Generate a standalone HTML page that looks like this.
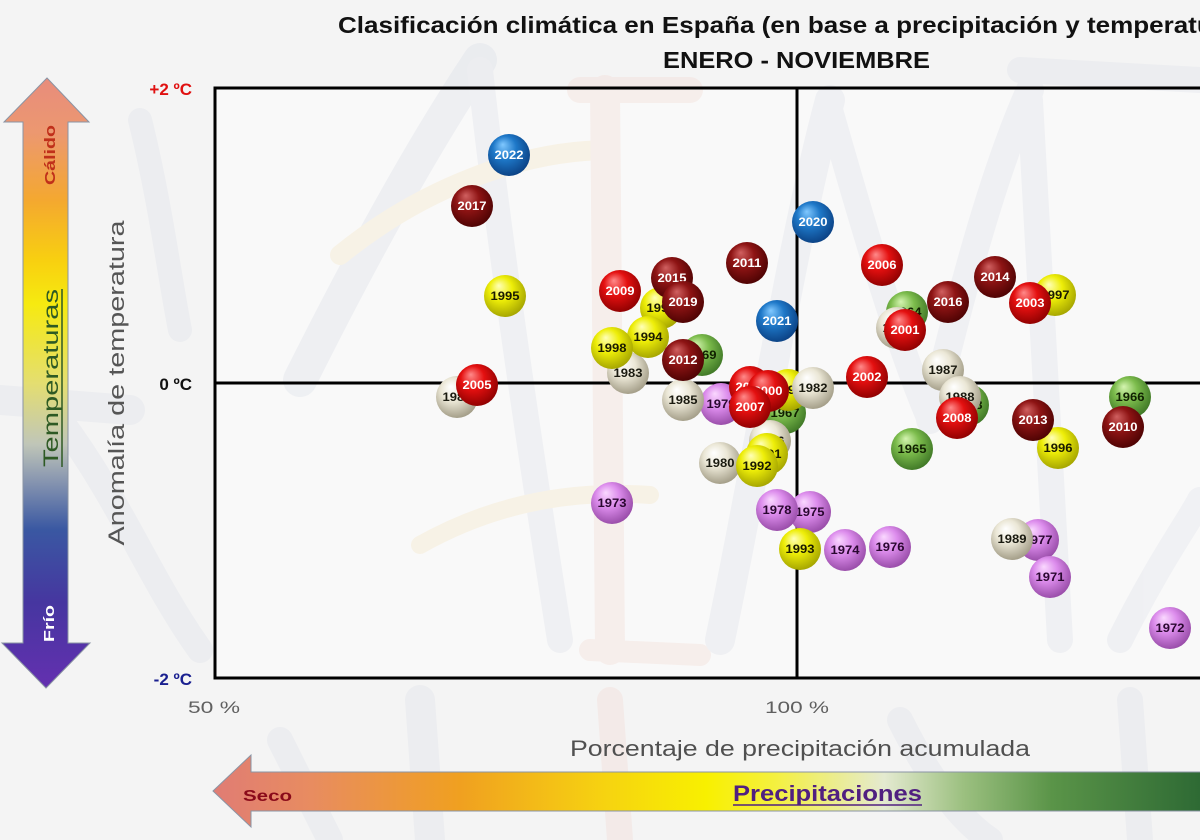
<!DOCTYPE html>
<html><head><meta charset="utf-8"><style>
html,body{margin:0;padding:0;background:#f4f4f4;}
svg{display:block;}
text{font-family:"Liberation Sans",sans-serif;}
</style></head><body>
<svg width="1200" height="840" viewBox="0 0 1200 840" xmlns="http://www.w3.org/2000/svg">
<defs>
<linearGradient id="tempG" x1="0" y1="78" x2="0" y2="688" gradientUnits="userSpaceOnUse">
<stop offset="0" stop-color="#e88c7c"/>
<stop offset="0.09" stop-color="#ec9870"/>
<stop offset="0.2" stop-color="#f4a830"/>
<stop offset="0.3" stop-color="#f8d010"/>
<stop offset="0.37" stop-color="#f6ea10"/>
<stop offset="0.5" stop-color="#e4de70"/>
<stop offset="0.6" stop-color="#c0c6b8"/>
<stop offset="0.66" stop-color="#8896b0"/>
<stop offset="0.74" stop-color="#3a58a2"/>
<stop offset="0.86" stop-color="#4636a0"/>
<stop offset="1" stop-color="#6430b0"/>
</linearGradient>
<linearGradient id="precG" x1="213" y1="0" x2="1200" y2="0" gradientUnits="userSpaceOnUse">
<stop offset="0" stop-color="#e07c74"/>
<stop offset="0.1" stop-color="#e88c60"/>
<stop offset="0.25" stop-color="#f0a020"/>
<stop offset="0.4" stop-color="#f6d410"/>
<stop offset="0.5" stop-color="#f8f000"/>
<stop offset="0.57" stop-color="#f4f040"/>
<stop offset="0.68" stop-color="#e4ead0"/>
<stop offset="0.76" stop-color="#9cc080"/>
<stop offset="0.85" stop-color="#5a9448"/>
<stop offset="1" stop-color="#2e6a34"/>
</linearGradient>
<radialGradient id="bDR" cx="0.45" cy="0.42" r="0.62" fx="0.35" fy="0.25"><stop offset="0" stop-color="#d06060"/><stop offset="0.45" stop-color="#8e1414"/><stop offset="1" stop-color="#4a0202"/></radialGradient>
<radialGradient id="bR" cx="0.45" cy="0.42" r="0.62" fx="0.35" fy="0.25"><stop offset="0" stop-color="#ff8a8a"/><stop offset="0.45" stop-color="#e41010"/><stop offset="1" stop-color="#8a0000"/></radialGradient>
<radialGradient id="bB" cx="0.45" cy="0.42" r="0.62" fx="0.35" fy="0.25"><stop offset="0" stop-color="#80c8ff"/><stop offset="0.45" stop-color="#1e78c8"/><stop offset="1" stop-color="#0a3e80"/></radialGradient>
<radialGradient id="bY" cx="0.45" cy="0.42" r="0.62" fx="0.35" fy="0.25"><stop offset="0" stop-color="#ffffb8"/><stop offset="0.45" stop-color="#eeee08"/><stop offset="1" stop-color="#a0a000"/></radialGradient>
<radialGradient id="bC" cx="0.45" cy="0.42" r="0.62" fx="0.35" fy="0.25"><stop offset="0" stop-color="#ffffff"/><stop offset="0.45" stop-color="#ebe7d6"/><stop offset="1" stop-color="#9e9882"/></radialGradient>
<radialGradient id="bG" cx="0.45" cy="0.42" r="0.62" fx="0.35" fy="0.25"><stop offset="0" stop-color="#d4f4b0"/><stop offset="0.45" stop-color="#7cbc4c"/><stop offset="1" stop-color="#3c7424"/></radialGradient>
<radialGradient id="bP" cx="0.45" cy="0.42" r="0.62" fx="0.35" fy="0.25"><stop offset="0" stop-color="#fad8ff"/><stop offset="0.45" stop-color="#dc8cec"/><stop offset="1" stop-color="#9448a4"/></radialGradient>
</defs>

<rect x="0" y="0" width="1200" height="840" fill="#f4f4f4"/>
<rect x="215" y="88" width="985" height="590" fill="#f9f9f9"/>

<!-- watermark strokes -->
<g fill="none" stroke-linecap="round" opacity="0.32">
<path d="M300,380 C360,260 420,150 480,60" stroke="#d8dce6" stroke-width="34"/>
<path d="M480,70 C500,250 530,450 560,640" stroke="#dde0e8" stroke-width="26"/>
<path d="M340,255 C420,190 520,150 610,150" stroke="#f4e4c0" stroke-width="20"/>
<path d="M420,545 C500,500 580,490 650,495" stroke="#f4e4c0" stroke-width="18"/>
<path d="M605,90 L610,650" stroke="#f2d8d0" stroke-width="30"/>
<path d="M580,90 L690,90" stroke="#f2d8d0" stroke-width="26"/>
<path d="M590,650 L700,655" stroke="#f2d8d0" stroke-width="22"/>
<path d="M720,640 C760,450 790,250 830,100" stroke="#dde0e8" stroke-width="30"/>
<path d="M830,110 C870,250 900,350 930,420" stroke="#dde0e8" stroke-width="26"/>
<path d="M930,420 C960,300 990,180 1030,90" stroke="#dde0e8" stroke-width="28"/>
<path d="M1030,100 C1040,300 1050,480 1060,640" stroke="#dde0e8" stroke-width="26"/>
<path d="M1120,640 C1160,560 1190,520 1200,500" stroke="#dde0e8" stroke-width="26"/>
<path d="M1020,70 L1200,80" stroke="#dde0e8" stroke-width="26"/>
<path d="M0,400 L130,410" stroke="#dde0e8" stroke-width="30"/>
<path d="M60,420 C120,500 150,580 200,650" stroke="#dde0e8" stroke-width="26"/>
<path d="M140,120 C160,200 170,280 180,330" stroke="#dde0e8" stroke-width="24"/>
<path d="M420,700 L430,840" stroke="#dde0e8" stroke-width="30"/>
<path d="M610,700 L620,840" stroke="#f2d8d0" stroke-width="26"/>
<path d="M900,720 C930,780 960,820 990,840" stroke="#dde0e8" stroke-width="26"/>
<path d="M1130,700 L1140,840" stroke="#dde0e8" stroke-width="26"/>
<path d="M280,740 L330,840" stroke="#dde0e8" stroke-width="26"/>
</g>

<!-- title -->
<text x="338" y="33" font-size="23" font-weight="bold" fill="#111" textLength="908" lengthAdjust="spacingAndGlyphs">Clasificación climática en España (en base a precipitación y temperatura)</text>
<text x="663" y="68" font-size="23" font-weight="bold" fill="#111" textLength="267" lengthAdjust="spacingAndGlyphs">ENERO - NOVIEMBRE</text>

<!-- left arrow -->
<path d="M47,78 L89,122 L68,122 L68,643 L90,643 L46,688 L2,643 L23,643 L23,122 L4,122 Z" fill="url(#tempG)" stroke="#8a94a4" stroke-width="1"/>
<text transform="translate(55,185) rotate(-90)" font-size="15" font-weight="bold" fill="#c0301a" textLength="60" lengthAdjust="spacingAndGlyphs">Cálido</text>
<text transform="translate(58,467) rotate(-90)" font-size="21" fill="#2e5a24" textLength="178" lengthAdjust="spacingAndGlyphs">Temperaturas</text>
<line x1="62" y1="467" x2="62" y2="289" stroke="#2e5a24" stroke-width="1.5"/>
<text transform="translate(54,642) rotate(-90)" font-size="15" font-weight="bold" fill="#ffffff" textLength="37" lengthAdjust="spacingAndGlyphs">Frío</text>

<!-- y axis title -->
<text transform="translate(124,383) rotate(-90)" font-size="22" fill="#555" text-anchor="middle" textLength="325" lengthAdjust="spacingAndGlyphs">Anomalía de temperatura</text>

<!-- tick labels -->
<text x="192" y="95" font-size="17" font-weight="bold" fill="#e01010" text-anchor="end">+2 ºC</text>
<text x="192" y="390" font-size="17" font-weight="bold" fill="#111" text-anchor="end">0 ºC</text>
<text x="192" y="685" font-size="17" font-weight="bold" fill="#1a2090" text-anchor="end">-2 ºC</text>
<text x="188" y="713" font-size="17" fill="#606060" textLength="52" lengthAdjust="spacingAndGlyphs">50 %</text>
<text x="765" y="713" font-size="17" fill="#606060" textLength="64" lengthAdjust="spacingAndGlyphs">100 %</text>

<!-- frame and zero lines -->
<g stroke="#000" stroke-width="3" fill="none">
<path d="M1201,88 H215 V678 H1201"/>
<path d="M215,383 H1201"/>
<path d="M797,88 V678"/>
</g>

<!-- x axis title -->
<text x="570" y="756" font-size="22" fill="#505050" textLength="460" lengthAdjust="spacingAndGlyphs">Porcentaje de precipitación acumulada</text>

<!-- bottom arrow -->
<path d="M213,791 L251,755 L251,772 L1201,772 L1201,811 L251,811 L251,827 Z" fill="url(#precG)" stroke="#8a94a4" stroke-width="1"/>
<text x="243" y="801" font-size="16" font-weight="bold" fill="#8a0a1a" textLength="49" lengthAdjust="spacingAndGlyphs">Seco</text>
<text x="733" y="801" font-size="22" font-weight="bold" fill="#502080" textLength="189" lengthAdjust="spacingAndGlyphs">Precipitaciones</text>
<line x1="733" y1="805" x2="922" y2="805" stroke="#502080" stroke-width="1.5"/>

<!-- bubbles -->
<g font-size="12" font-weight="bold" text-anchor="middle">
<!-- green -->
<g fill="#102000">
<circle cx="907" cy="312" r="21" fill="url(#bG)"/><text x="907" y="316" textLength="29" lengthAdjust="spacingAndGlyphs">1964</text>
<circle cx="702" cy="355" r="21" fill="url(#bG)"/><text x="702" y="359" textLength="29" lengthAdjust="spacingAndGlyphs">1969</text>
<circle cx="785" cy="413" r="21" fill="url(#bG)"/><text x="785" y="417" textLength="29" lengthAdjust="spacingAndGlyphs">1967</text>
<circle cx="968" cy="405" r="21" fill="url(#bG)"/><text x="968" y="409" textLength="29" lengthAdjust="spacingAndGlyphs">1968</text>
<circle cx="1130" cy="397" r="21" fill="url(#bG)"/><text x="1130" y="401" textLength="29" lengthAdjust="spacingAndGlyphs">1966</text>
<circle cx="912" cy="449" r="21" fill="url(#bG)"/><text x="912" y="453" textLength="29" lengthAdjust="spacingAndGlyphs">1965</text>
</g>
<!-- pink -->
<g fill="#2a0830">
<circle cx="721" cy="404" r="21" fill="url(#bP)"/><text x="721" y="408" textLength="29" lengthAdjust="spacingAndGlyphs">1979</text>
<circle cx="612" cy="503" r="21" fill="url(#bP)"/><text x="612" y="507" textLength="29" lengthAdjust="spacingAndGlyphs">1973</text>
<circle cx="810" cy="512" r="21" fill="url(#bP)"/><text x="810" y="516" textLength="29" lengthAdjust="spacingAndGlyphs">1975</text>
<circle cx="777" cy="510" r="21" fill="url(#bP)"/><text x="777" y="514" textLength="29" lengthAdjust="spacingAndGlyphs">1978</text>
<circle cx="845" cy="550" r="21" fill="url(#bP)"/><text x="845" y="554" textLength="29" lengthAdjust="spacingAndGlyphs">1974</text>
<circle cx="890" cy="547" r="21" fill="url(#bP)"/><text x="890" y="551" textLength="29" lengthAdjust="spacingAndGlyphs">1976</text>
<circle cx="1038" cy="540" r="21" fill="url(#bP)"/><text x="1038" y="544" textLength="29" lengthAdjust="spacingAndGlyphs">1977</text>
<circle cx="1050" cy="577" r="21" fill="url(#bP)"/><text x="1050" y="581" textLength="29" lengthAdjust="spacingAndGlyphs">1971</text>
<circle cx="1170" cy="628" r="21" fill="url(#bP)"/><text x="1170" y="632" textLength="29" lengthAdjust="spacingAndGlyphs">1972</text>
</g>
<!-- cream -->
<g fill="#1a1a10">
<circle cx="897" cy="328" r="21" fill="url(#bC)"/><text x="897" y="332" textLength="29" lengthAdjust="spacingAndGlyphs">1984</text>
<circle cx="628" cy="373" r="21" fill="url(#bC)"/><text x="628" y="377" textLength="29" lengthAdjust="spacingAndGlyphs">1983</text>
<circle cx="457" cy="397" r="21" fill="url(#bC)"/><text x="457" y="401" textLength="29" lengthAdjust="spacingAndGlyphs">1981</text>
<circle cx="683" cy="400" r="21" fill="url(#bC)"/><text x="683" y="404" textLength="29" lengthAdjust="spacingAndGlyphs">1985</text>
<circle cx="943" cy="370" r="21" fill="url(#bC)"/><text x="943" y="374" textLength="29" lengthAdjust="spacingAndGlyphs">1987</text>
<circle cx="960" cy="397" r="21" fill="url(#bC)"/><text x="960" y="401" textLength="29" lengthAdjust="spacingAndGlyphs">1988</text>
<circle cx="770" cy="441" r="21" fill="url(#bC)"/><text x="770" y="445" textLength="29" lengthAdjust="spacingAndGlyphs">1986</text>
<circle cx="720" cy="463" r="21" fill="url(#bC)"/><text x="720" y="467" textLength="29" lengthAdjust="spacingAndGlyphs">1980</text>
<circle cx="1012" cy="539" r="21" fill="url(#bC)"/><text x="1012" y="543" textLength="29" lengthAdjust="spacingAndGlyphs">1989</text>
</g>
<!-- yellow -->
<g fill="#1a1a00">
<circle cx="505" cy="296" r="21" fill="url(#bY)"/><text x="505" y="300" textLength="29" lengthAdjust="spacingAndGlyphs">1995</text>
<circle cx="661" cy="308" r="21" fill="url(#bY)"/><text x="661" y="312" textLength="29" lengthAdjust="spacingAndGlyphs">1999</text>
<circle cx="648" cy="337" r="21" fill="url(#bY)"/><text x="648" y="341" textLength="29" lengthAdjust="spacingAndGlyphs">1994</text>
<circle cx="612" cy="348" r="21" fill="url(#bY)"/><text x="612" y="352" textLength="29" lengthAdjust="spacingAndGlyphs">1998</text>
<circle cx="788" cy="390" r="21" fill="url(#bY)"/><text x="788" y="394" textLength="29" lengthAdjust="spacingAndGlyphs">1990</text>
<circle cx="767" cy="454" r="21" fill="url(#bY)"/><text x="767" y="458" textLength="29" lengthAdjust="spacingAndGlyphs">1991</text>
<circle cx="757" cy="466" r="21" fill="url(#bY)"/><text x="757" y="470" textLength="29" lengthAdjust="spacingAndGlyphs">1992</text>
<circle cx="1055" cy="295" r="21" fill="url(#bY)"/><text x="1055" y="299" textLength="29" lengthAdjust="spacingAndGlyphs">1997</text>
<circle cx="1058" cy="448" r="21" fill="url(#bY)"/><text x="1058" y="452" textLength="29" lengthAdjust="spacingAndGlyphs">1996</text>
<circle cx="800" cy="549" r="21" fill="url(#bY)"/><text x="800" y="553" textLength="29" lengthAdjust="spacingAndGlyphs">1993</text>
</g>
<circle cx="813" cy="388" r="21" fill="url(#bC)"/><text x="813" y="392" fill="#1a1a10" textLength="29" lengthAdjust="spacingAndGlyphs">1982</text>
<!-- red -->
<g fill="#ffffff">
<circle cx="620" cy="291" r="21" fill="url(#bR)"/><text x="620" y="295" textLength="29" lengthAdjust="spacingAndGlyphs">2009</text>
<circle cx="882" cy="265" r="21" fill="url(#bR)"/><text x="882" y="269" textLength="29" lengthAdjust="spacingAndGlyphs">2006</text>
<circle cx="1030" cy="303" r="21" fill="url(#bR)"/><text x="1030" y="307" textLength="29" lengthAdjust="spacingAndGlyphs">2003</text>
<circle cx="905" cy="330" r="21" fill="url(#bR)"/><text x="905" y="334" textLength="29" lengthAdjust="spacingAndGlyphs">2001</text>
<circle cx="867" cy="377" r="21" fill="url(#bR)"/><text x="867" y="381" textLength="29" lengthAdjust="spacingAndGlyphs">2002</text>
<circle cx="477" cy="385" r="21" fill="url(#bR)"/><text x="477" y="389" textLength="29" lengthAdjust="spacingAndGlyphs">2005</text>
<circle cx="750" cy="387" r="21" fill="url(#bR)"/><text x="750" y="391" textLength="29" lengthAdjust="spacingAndGlyphs">2004</text>
<circle cx="768" cy="391" r="21" fill="url(#bR)"/><text x="768" y="395" textLength="29" lengthAdjust="spacingAndGlyphs">2000</text>
<circle cx="750" cy="407" r="21" fill="url(#bR)"/><text x="750" y="411" textLength="29" lengthAdjust="spacingAndGlyphs">2007</text>
<circle cx="957" cy="418" r="21" fill="url(#bR)"/><text x="957" y="422" textLength="29" lengthAdjust="spacingAndGlyphs">2008</text>
</g>
<!-- dark red -->
<g fill="#ffffff">
<circle cx="472" cy="206" r="21" fill="url(#bDR)"/><text x="472" y="210" textLength="29" lengthAdjust="spacingAndGlyphs">2017</text>
<circle cx="747" cy="263" r="21" fill="url(#bDR)"/><text x="747" y="267" textLength="29" lengthAdjust="spacingAndGlyphs">2011</text>
<circle cx="672" cy="278" r="21" fill="url(#bDR)"/><text x="672" y="282" textLength="29" lengthAdjust="spacingAndGlyphs">2015</text>
<circle cx="683" cy="302" r="21" fill="url(#bDR)"/><text x="683" y="306" textLength="29" lengthAdjust="spacingAndGlyphs">2019</text>
<circle cx="995" cy="277" r="21" fill="url(#bDR)"/><text x="995" y="281" textLength="29" lengthAdjust="spacingAndGlyphs">2014</text>
<circle cx="948" cy="302" r="21" fill="url(#bDR)"/><text x="948" y="306" textLength="29" lengthAdjust="spacingAndGlyphs">2016</text>
<circle cx="683" cy="360" r="21" fill="url(#bDR)"/><text x="683" y="364" textLength="29" lengthAdjust="spacingAndGlyphs">2012</text>
<circle cx="1033" cy="420" r="21" fill="url(#bDR)"/><text x="1033" y="424" textLength="29" lengthAdjust="spacingAndGlyphs">2013</text>
<circle cx="1123" cy="427" r="21" fill="url(#bDR)"/><text x="1123" y="431" textLength="29" lengthAdjust="spacingAndGlyphs">2010</text>
</g>
<!-- blue -->
<g fill="#ffffff">
<circle cx="509" cy="155" r="21" fill="url(#bB)"/><text x="509" y="159" textLength="29" lengthAdjust="spacingAndGlyphs">2022</text>
<circle cx="813" cy="222" r="21" fill="url(#bB)"/><text x="813" y="226" textLength="29" lengthAdjust="spacingAndGlyphs">2020</text>
<circle cx="777" cy="321" r="21" fill="url(#bB)"/><text x="777" y="325" textLength="29" lengthAdjust="spacingAndGlyphs">2021</text>
</g>
</g>
</svg>
</body></html>
